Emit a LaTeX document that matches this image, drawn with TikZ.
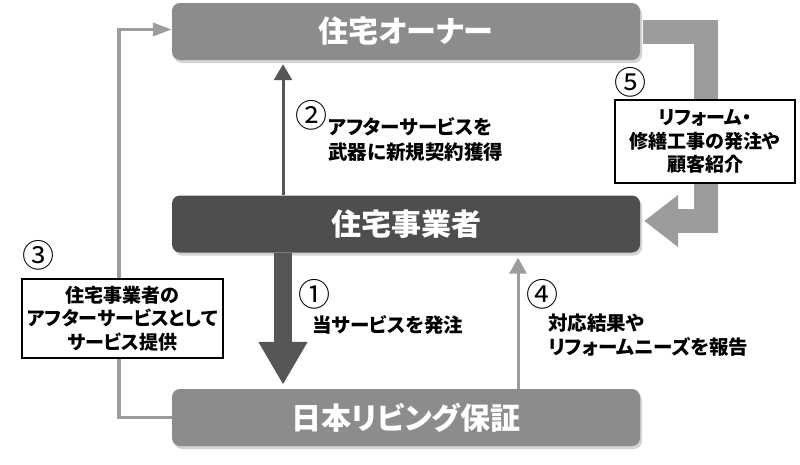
\documentclass[tikz,border=0pt]{standalone}
\usepackage{fontspec}
\setmainfont{Noto Sans CJK JP}[RawFeature=+palt]
\usetikzlibrary{calc,arrows.meta,shadows}
\definecolor{pGrayA}{HTML}{8C8C8C}
\definecolor{pGrayB}{HTML}{4E4E4E}
\definecolor{pGrayC}{HTML}{9C9C9C}
\definecolor{pGrayD}{HTML}{565656}

\begin{document}
\begin{tikzpicture}[x=1pt,y=-1pt]
    \useasboundingbox (0,0) rectangle (800,464);

    \tikzset{
        mainbox/.style={rounded corners=8pt, minimum width=468pt, minimum height=57pt,
            inner sep=0pt, text=white, font=\fontsize{30}{34}\selectfont\bfseries,
            drop shadow={opacity=0.35, shadow xshift=2pt, shadow yshift=-3pt}},
        notebox/.style={draw=black, line width=1.5pt, fill=white, align=center, inner sep=0pt,
            font=\fontsize{19}{23.5}\selectfont\bfseries},
        notetext/.style={anchor=west, align=left, inner sep=0pt,
            font=\fontsize{19.5}{24.5}\selectfont\bfseries},
        stepnum/.style={inner sep=0pt, font=\fontsize{32}{32}\selectfont},
        darkarrow/.style={draw=pGrayD, line width=3pt, -{Triangle[width=18pt,length=16pt]}},
        lightarrow/.style={draw=pGrayC, line width=3pt, -{Triangle[width=17pt,length=16pt]}}
    }

    % boxes
    \node[mainbox, fill=pGrayA] (owner) at (406,31.5) {住宅オーナー};
    \node[mainbox, fill=pGrayB] (builder) at (406,224) {住宅事業者};
    \node[mainbox, fill=pGrayA] (nls) at (406,417.5) {日本リビング保証};

    \coordinate (c1) at (283,0);
    \coordinate (c3) at (119,0);
    \coordinate (c4) at (518,0);
    \coordinate (c5) at (706,0);

    % (1)
    \draw[draw=pGrayD, line width=18pt, -{Triangle[width=46pt,length=43pt]}, shorten >=4pt]
        (builder.south -| c1) -- (nls.north -| c1);
    % (2)
    \draw[darkarrow, shorten >=4pt] (builder.north -| c1) -- (owner.south -| c1);
    % (3)
    \draw[draw=pGrayC, line width=3.5pt, -{Triangle[width=13pt,length=19pt]}]
        (nls.west) -- (nls.west -| c3) -- ($(owner.west -| c3)+(0,-2)$) -- ($(owner.west)+(0,-2)$);
    % (4)
    \draw[lightarrow, shorten >=5pt] (nls.north -| c4) -- (builder.south -| c4);
    % (5)
    \draw[draw=pGrayC, line width=24pt, line join=miter, -{Triangle[width=50pt,length=34pt]},
        shorten <=3pt, shorten >=4pt]
        (owner.east) -- (owner.east -| c5) -- ($(builder.east -| c5)+(0,-3)$) -- ($(builder.east)+(0,-3)$);

    % notes
    \node[notebox, minimum width=201pt, minimum height=79pt] (note3) at (122.5,318.5)
        {住宅事業者の\\アフターサービスとして\\サービス提供};
    \node[notebox, minimum width=180pt, minimum height=83pt] (note5) at (705,141.5)
        {リフォーム・\\修繕工事の発注や\\顧客紹介};

    \node[stepnum] (n1) at (314,294) {①};
    \node[stepnum] (n2) at (311,115) {②};
    \node[stepnum] (n3) at (38,255) {③};
    \node[stepnum] (n4) at (542,294) {④};
    \node[stepnum] (n5) at (630,82) {⑤};

    \node[notetext] (t2) at (328,139.5) {アフターサービスを\\武器に新規契約獲得};
    \node[notetext] (t1) at (312,325) {当サービスを発注};
    \node[notetext] (t4) at (548,335) {対応結果や\\リフォームニーズを報告};
\end{tikzpicture}
\end{document}
